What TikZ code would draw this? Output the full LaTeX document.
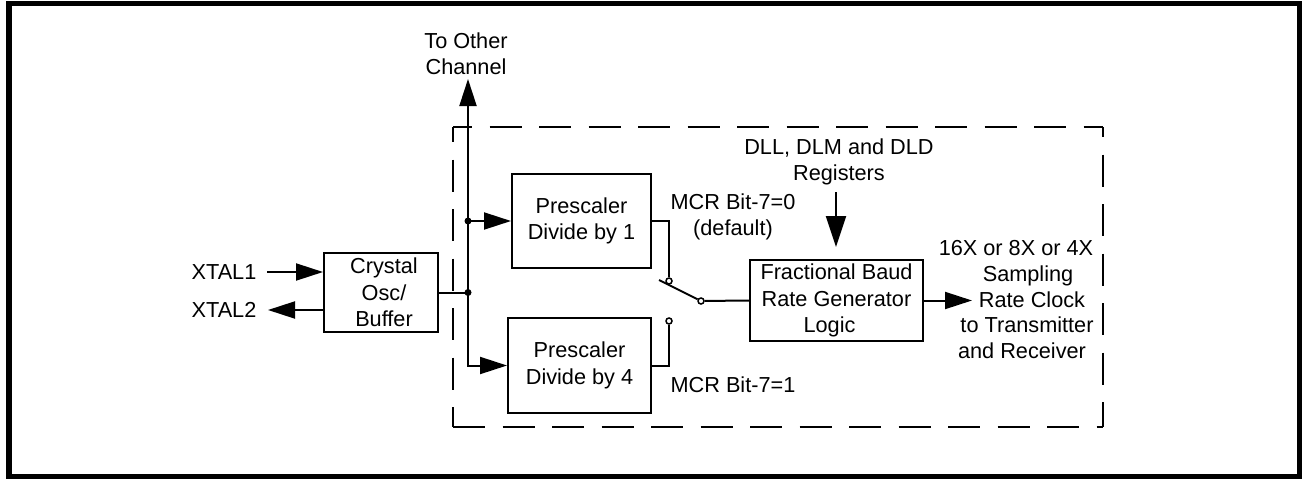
\documentclass[tikz,border=0pt]{standalone}
\usepackage{fontspec}
\setmainfont{Liberation Sans}
\usetikzlibrary{arrows.meta}
\begin{document}
\begin{tikzpicture}[x=1pt,y=-1pt,
  every node/.style={font=\fontsize{21.7}{26.3}\selectfont, align=center, inner sep=0pt},
  wire/.style={line width=2pt},
  arr/.style={line width=2pt, -{Triangle[length=27pt,width=17pt]}},
  bigarr/.style={line width=2pt, -{Triangle[length=31pt,width=20pt]}},
  blk/.style={draw, line width=2pt},
  sw/.style={draw, circle, line width=1.5pt, fill=white, minimum size=6pt, inner sep=0pt},
  grp/.style={line width=2pt, dash pattern=on 32pt off 17.5pt},
  ln/.style={anchor=base}
]
\useasboundingbox (0,0) rectangle (1302,479);
\draw[line width=5.5pt] (9,3.5) rectangle (1299.5,476.5);

% dashed group
\draw[grp, dash phase=13pt] (453,127) -- (1103,127);
\draw[grp] (453,427) -- (1103,427);
\draw[grp, dash phase=17pt] (453,127) -- (453,427);
\draw[grp, dash phase=22pt] (1103,127) -- (1103,427);

% blocks
\node[blk, minimum width=114pt, minimum height=79pt] (crystal) at (381,292.5)
  {\hspace*{6pt}Crystal\\\hspace*{6pt}Osc/\\\hspace*{6pt}Buffer};
\node[blk, minimum width=139pt, minimum height=94pt] (pre1) at (581.5,221) {Prescaler\\Divide by 1};
\node[blk, minimum width=143pt, minimum height=95pt] (pre4) at (579.5,365.5) {Prescaler\\Divide by 4};
\node[blk, minimum width=173pt, minimum height=81pt] (frac) at (836.5,300.5)
  {Fractional Baud\\Rate Generator\\Logic\hspace*{14pt}};

% labels
\node (x1) at (224,272) {XTAL1};
\node (x2) at (224,310) {XTAL2};
\node (toc) at (466,54) {To Other\\Channel};
\node (reg) at (839,162) {DLL, DLM and DLD\\Registers};
\node (mcr0) at (733,217) {MCR Bit-7=0\\(default)};
\node (mcr1) at (733,385) {MCR Bit-7=1};
\node[ln] (out1) at (1016,255) {16X or 8X or 4X};
\node[ln] (out2) at (1028,281) {Sampling};
\node[ln] (out3) at (1032,307) {Rate Clock};
\node[ln] (out4) at (1027,332.5) {to Transmitter};
\node[ln] (out5) at (1022,358) {and Receiver};

% coordinates
\coordinate (x1s) at (267,272);
\coordinate (x2t) at (268,310);
\coordinate (j1) at (468,292.5);
\coordinate (j2) at (468,221);
\coordinate (tip) at (468,79);
\coordinate (ra) at (836,192);
\coordinate (rb) at (836,247);
\coordinate (otip) at (972,300.5);
\coordinate (bl) at (659,280);

% switch contacts
\node[sw] (s1) at (669,281) {};
\node[sw] (s2) at (669,321) {};
\node[sw] (s3) at (701,301) {};

% connectors
\draw[arr] (x1s) -- (crystal.west |- x1s);
\draw[arr] (crystal.west |- x2t) -- (x2t);
\draw[wire] (crystal.east) -- (j1);
\draw[arr] (j1) -- (tip);
\draw[arr] (j2) -- (pre1.west);
\draw[arr] (j1) |- (pre4.west);
\fill (j1) circle[radius=3.5pt];
\fill (j2) circle[radius=3.5pt];
\draw[wire] (pre1.east) -| (s1);
\draw[wire] (pre4.east) -| (s2);
\draw[wire] (s3) -- (bl);
\draw[wire] (s3) -- (frac.west);
\draw[bigarr] (ra) -- (rb);
\draw[arr] (frac.east) -- (otip);
\end{tikzpicture}
\end{document}
